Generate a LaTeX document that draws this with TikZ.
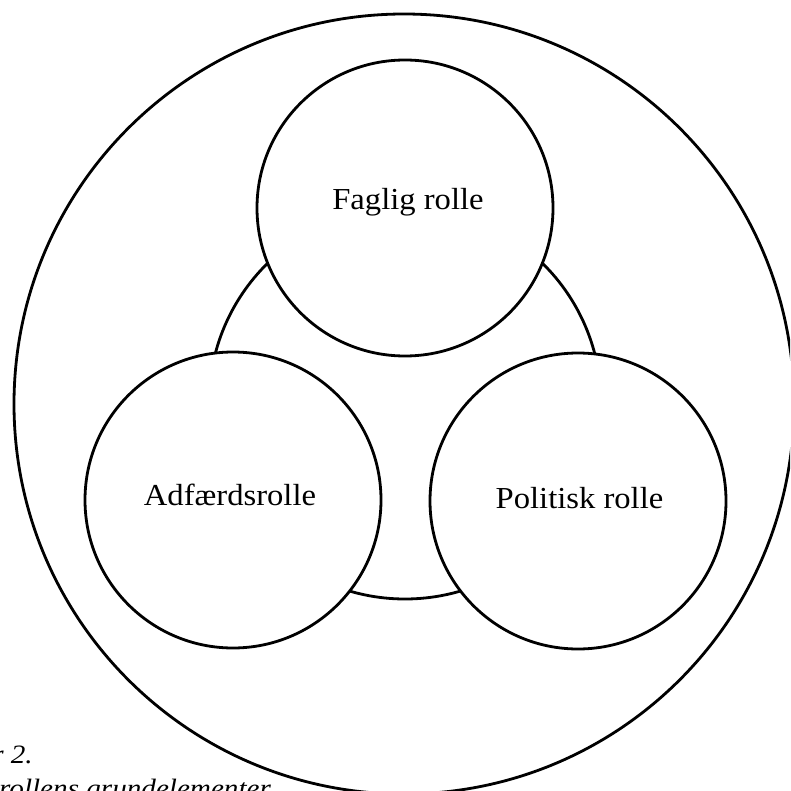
\documentclass[tikz,border=0pt]{standalone}
\usepackage{fontspec}
\setmainfont{Liberation Serif}
\newfontfamily\labfont[FakeStretch=1.07]{Liberation Serif}
\newfontfamily\capfont[FakeStretch=1.1]{Liberation Serif}
\begin{document}
\begin{tikzpicture}[x=1pt,y=-1pt]
\tikzset{
  ring/.style={circle, draw=black, line width=2.8pt, inner sep=0pt, outer sep=0pt},
  role/.style={ring, fill=white, minimum size=296pt},
  lab/.style={font=\labfont\fontsize{30.5}{36}\selectfont, anchor=base, inner sep=0pt},
  captext/.style={font=\capfont\itshape\fontsize{26.5}{30}\selectfont, inner sep=0pt},
}
\useasboundingbox (0,0) rectangle (790,791);
\clip (0,0) rectangle (790,791);
\fill[white] (0,0) rectangle (790,791);
% outer and central circles
\node[ring, minimum size=780pt] (outer) at (404,404) {};
\node[ring, minimum size=392pt] (core) at (405,403) {};
% the three role circles
\node[role] (faglig) at (405,208) {};
\node[role] (adfaerd) at (233,500) {};
\node[role] (politisk) at (578,501) {};
% labels
\node[lab] (fagligtxt) at (408,210) {Faglig rolle};
\node[lab] (adfaerdtxt) at (230,505) {Adfærdsrolle};
\node[lab] (politisktxt) at (579.5,508) {Politisk rolle};
% caption (cut off by the page edge, as in the reference)
\node[captext, anchor=base east] (capnum) at (33,763) {r 2.};
\node[captext, anchor=base west] (captitle) at (-1,797) {rollens grundelementer};
\end{tikzpicture}
\end{document}
